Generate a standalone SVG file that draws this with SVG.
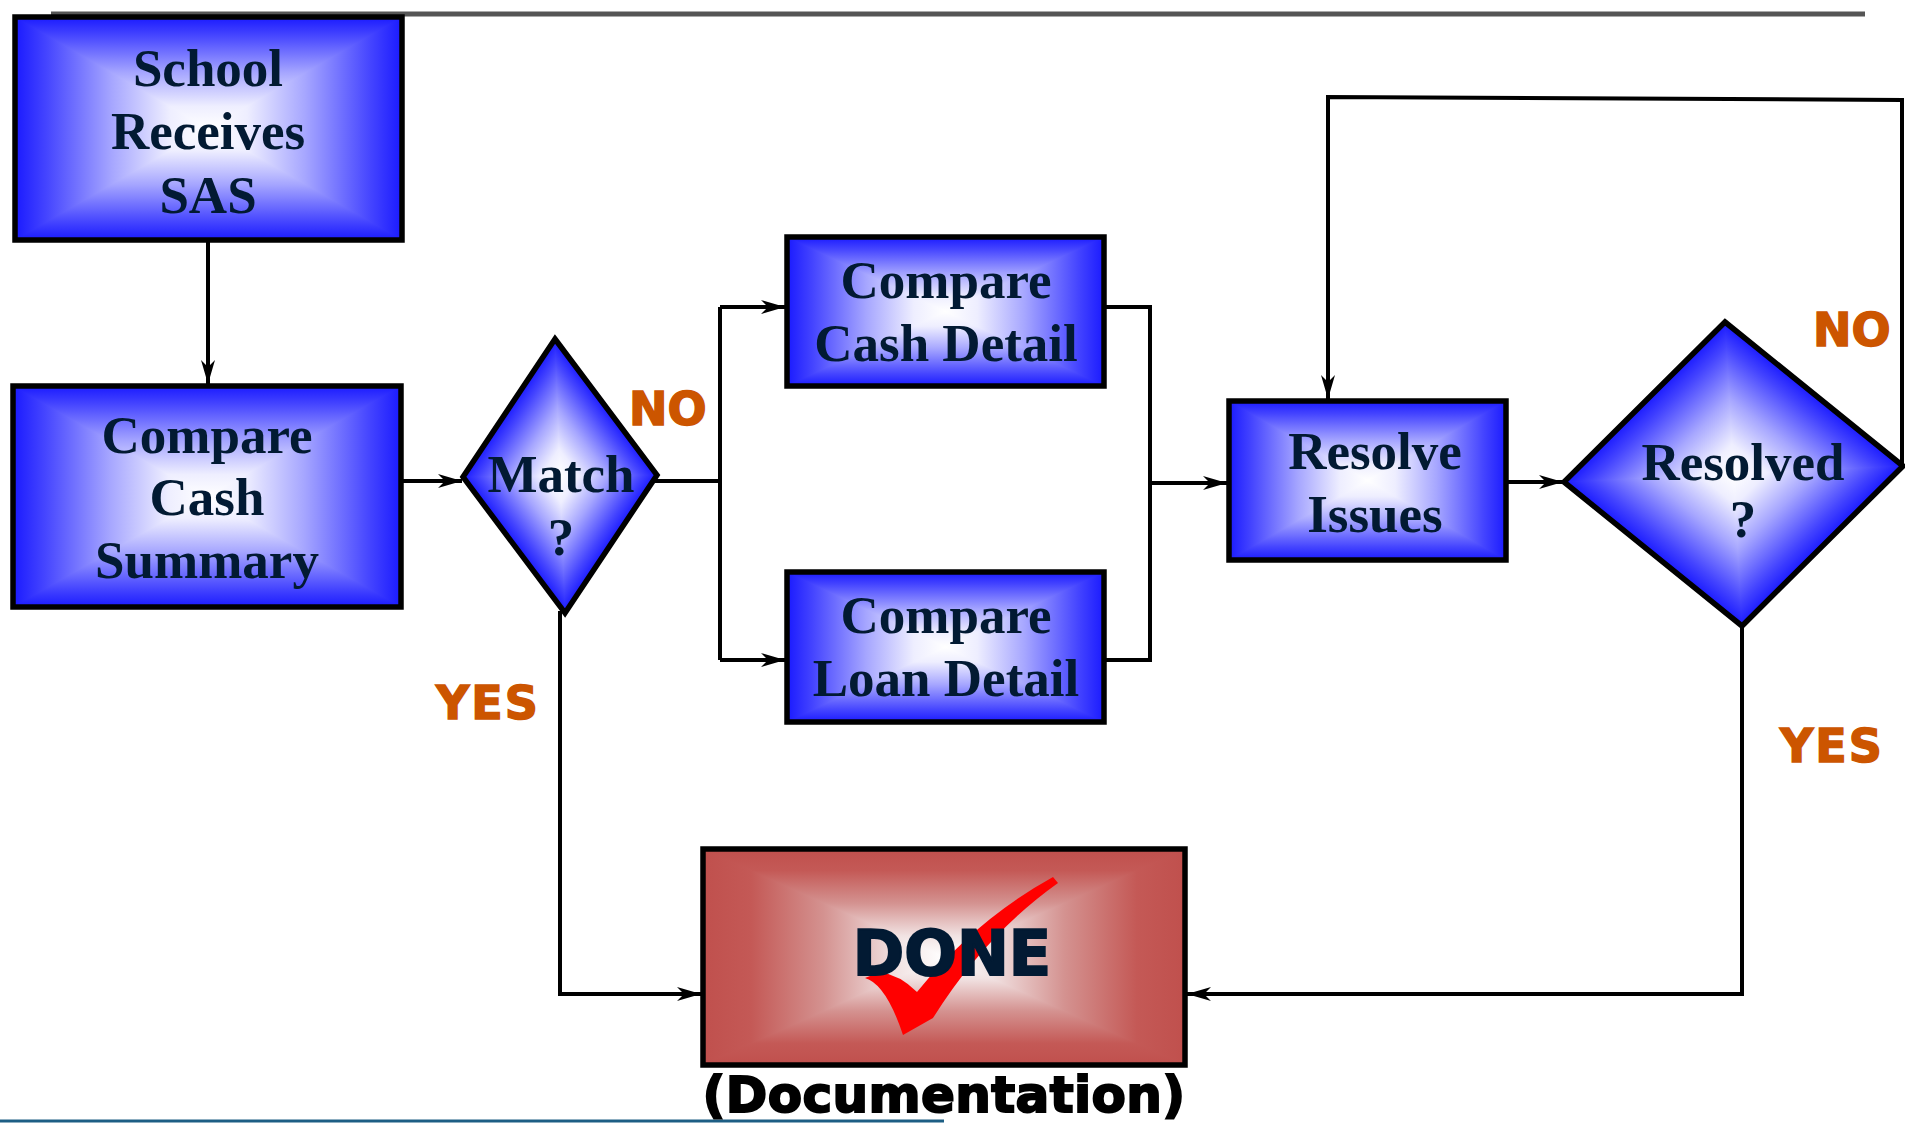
<svg xmlns="http://www.w3.org/2000/svg" width="1905" height="1124" viewBox="0 0 1905 1124">
  <style>
    .lbl { font-family: "Liberation Serif", "Times New Roman", serif; font-weight: bold; font-size: 53px; fill: #021a33; text-anchor: middle; }
    .ans { font-family: "DejaVu Sans", "Liberation Sans", sans-serif; font-weight: bold; font-size: 46px; fill: #cc5500; stroke: #cc5500; stroke-width: 1.5; }
    .yes { letter-spacing: 2px; }
    .heavy { font-family: "DejaVu Sans", "Liberation Sans", sans-serif; font-weight: bold; text-anchor: middle; }
    .edge { fill: none; stroke: #000; stroke-width: 4; }
    .frame { fill: none; stroke: #000; stroke-width: 5.5; stroke-linejoin: miter; }
  </style>
  <defs>
    <!-- blue rectangular "path" shading: horizontal + vertical halves -->
    <linearGradient id="bx" x1="0" y1="0" x2="1" y2="0">
      <stop offset="0" stop-color="#1a1aff"/>
      <stop offset="0.08" stop-color="#4444ff"/>
      <stop offset="0.25" stop-color="#a6a6ff"/>
      <stop offset="0.4" stop-color="#eeeeff"/>
      <stop offset="0.5" stop-color="#ffffff"/>
      <stop offset="0.6" stop-color="#eeeeff"/>
      <stop offset="0.75" stop-color="#a6a6ff"/>
      <stop offset="0.92" stop-color="#4444ff"/>
      <stop offset="1" stop-color="#1a1aff"/>
    </linearGradient>
    <linearGradient id="by" href="#bx" x1="0" y1="0" x2="0" y2="1"/>
    <!-- red shading for the final box -->
    <linearGradient id="rx" x1="0" y1="0" x2="1" y2="0">
      <stop offset="0" stop-color="#c0504d"/>
      <stop offset="0.1" stop-color="#c45956"/>
      <stop offset="0.25" stop-color="#d49290"/>
      <stop offset="0.4" stop-color="#f1e2e2"/>
      <stop offset="0.5" stop-color="#ffffff"/>
      <stop offset="0.6" stop-color="#f1e2e2"/>
      <stop offset="0.75" stop-color="#d49290"/>
      <stop offset="0.9" stop-color="#c45956"/>
      <stop offset="1" stop-color="#c0504d"/>
    </linearGradient>
    <linearGradient id="ry" href="#rx" x1="0" y1="0" x2="0" y2="1"/>
    <marker id="arrow" markerUnits="userSpaceOnUse" markerWidth="24" markerHeight="14" refX="24" refY="7" orient="auto">
      <path d="M0,0 L24,7 L0,14 L7,7 Z" fill="#000"/>
    </marker>
  </defs>

  <!-- page rules -->
  <line x1="51" y1="14" x2="1865" y2="14" stroke="#555" stroke-width="5"/>
  <line x1="0" y1="1121" x2="944" y2="1121" stroke="#1d5e84" stroke-width="3"/>

  <!-- connectors -->
  <g id="connectors">
    <path class="edge" d="M208,240 V384" marker-end="url(#arrow)"/>
    <path class="edge" d="M401,481 H462" marker-end="url(#arrow)"/>
    <path class="edge" d="M655,481 H720"/>
    <path class="edge" d="M720,307 V660"/>
    <path class="edge" d="M720,307 H785" marker-end="url(#arrow)"/>
    <path class="edge" d="M720,660 H785" marker-end="url(#arrow)"/>
    <path class="edge" d="M1104,307 H1150 V660 H1106"/>
    <path class="edge" d="M1150,483 H1227" marker-end="url(#arrow)"/>
    <path class="edge" d="M1506,482 H1563" marker-end="url(#arrow)"/>
    <path class="edge" d="M1902,466 V100 L1328,97 V399" marker-end="url(#arrow)"/>
    <path class="edge" d="M560,611 V994 H701" marker-end="url(#arrow)"/>
    <path class="edge" d="M1742,626 V994 H1187" marker-end="url(#arrow)"/>
  </g>

  <!-- School Receives SAS -->
  <g id="receive">
    <rect x="15" y="17" width="387" height="223" fill="url(#bx)"/>
    <path d="M15,17 H402 L208.5,128.5 L402,240 H15 L208.5,128.5 Z" fill="url(#by)"/>
    <rect class="frame" x="15" y="17" width="387" height="223"/>
    <text class="lbl" x="208" y="86">School</text>
    <text class="lbl" x="208" y="149">Receives</text>
    <text class="lbl" x="208" y="213">SAS</text>
  </g>

  <!-- Compare Cash Summary -->
  <g id="summary">
    <rect x="13" y="386" width="388" height="221" fill="url(#bx)"/>
    <path d="M13,386 H401 L207,496.5 L401,607 H13 L207,496.5 Z" fill="url(#by)"/>
    <rect class="frame" x="13" y="386" width="388" height="221"/>
    <text class="lbl" x="207" y="453">Compare</text>
    <text class="lbl" x="207" y="515">Cash</text>
    <text class="lbl" x="207" y="578">Summary</text>
  </g>

  <!-- Match ? -->
  <g id="match">
    <g transform="matrix(51 68 -46 69 560 476)">
      <rect x="-1" y="-1" width="2" height="2" fill="url(#bx)"/>
      <path d="M-1,-1 H1 L0,0 L1,1 H-1 L0,0 Z" fill="url(#by)"/>
    </g>
    <polygon class="frame" points="555,339 657,475 565,613 463,477"/>
    <text class="lbl" x="561" y="492">Match</text>
    <text class="lbl" x="561" y="555">?</text>
  </g>

  <!-- Compare Cash Detail -->
  <g id="cash-detail">
    <rect x="787" y="237" width="317" height="149" fill="url(#bx)"/>
    <path d="M787,237 H1104 L945.5,311.5 L1104,386 H787 L945.5,311.5 Z" fill="url(#by)"/>
    <rect class="frame" x="787" y="237" width="317" height="149"/>
    <text class="lbl" x="946" y="298">Compare</text>
    <text class="lbl" x="946" y="361">Cash Detail</text>
  </g>

  <!-- Compare Loan Detail -->
  <g id="loan-detail">
    <rect x="787" y="572" width="317" height="150" fill="url(#bx)"/>
    <path d="M787,572 H1104 L945.5,647 L1104,722 H787 L945.5,647 Z" fill="url(#by)"/>
    <rect class="frame" x="787" y="572" width="317" height="150"/>
    <text class="lbl" x="946" y="633">Compare</text>
    <text class="lbl" x="946" y="696">Loan Detail</text>
  </g>

  <!-- Resolve Issues -->
  <g id="resolve">
    <rect x="1229" y="401" width="277" height="159" fill="url(#bx)"/>
    <path d="M1229,401 H1506 L1367.5,480.5 L1506,560 H1229 L1367.5,480.5 Z" fill="url(#by)"/>
    <rect class="frame" x="1229" y="401" width="277" height="159"/>
    <text class="lbl" x="1375" y="469">Resolve</text>
    <text class="lbl" x="1375" y="532">Issues</text>
  </g>

  <!-- Resolved ? -->
  <g id="resolved">
    <g transform="matrix(89 72 -80.5 80 1733.5 474)">
      <rect x="-1" y="-1" width="2" height="2" fill="url(#bx)"/>
      <path d="M-1,-1 H1 L0,0 L1,1 H-1 L0,0 Z" fill="url(#by)"/>
    </g>
    <polygon class="frame" points="1725,322 1903,466 1742,626 1564,482"/>
    <text class="lbl" x="1743" y="480">Resolved</text>
    <text class="lbl" x="1743" y="537">?</text>
  </g>

  <!-- DONE (Documentation) -->
  <g id="done">
    <rect x="703" y="849" width="482" height="216" fill="url(#rx)"/>
    <path d="M703,849 H1185 L944,957 L1185,1065 H703 L944,957 Z" fill="url(#ry)"/>
    <rect class="frame" x="703" y="849" width="482" height="216"/>
    <path d="M865,978 Q886,984 903,1035 L933,1018 Q985,935 1058,883 L1053,877 Q975,920 917,992 Q900,975 880,972 Z" fill="#ff0000"/>
    <text class="heavy" x="952" y="975" font-size="62" fill="#021a33" stroke="#021a33" stroke-width="2">DONE</text>
    <text class="heavy" x="944" y="1112" font-size="50" fill="#000" stroke="#000" stroke-width="2" letter-spacing="0.4">(Documentation)</text>
  </g>

  <!-- branch answers -->
  <g id="answers">
    <text class="ans" x="629" y="425">NO</text>
    <text class="ans" x="1813" y="346">NO</text>
    <text class="ans yes" x="436" y="719">YES</text>
    <text class="ans yes" x="1780" y="762">YES</text>
  </g>
</svg>
